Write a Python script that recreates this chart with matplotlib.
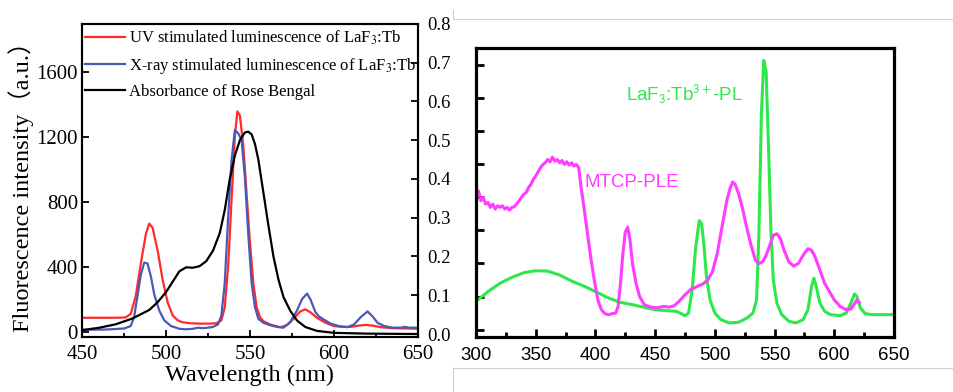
import matplotlib.pyplot as plt
from matplotlib.lines import Line2D

plt.rcParams['mathtext.fontset'] = 'stix'

# ---- left panel: LaF3:Tb luminescence vs Rose Bengal absorbance
uv_wl = [450, 470, 476, 479, 482, 485, 488, 490, 492, 495, 498, 501, 504, 507, 510, 515, 520, 525, 530,
         533, 535, 537, 539, 541, 542.5, 544, 546, 548, 550, 552, 554, 556, 558, 562, 568, 572, 576, 580,
         583, 586, 590, 595, 600, 605, 610, 615, 619, 623, 628, 635, 645, 650]
uv_int = [86, 86, 88, 110, 220, 420, 600, 665, 640, 500, 320, 180, 100, 70, 58, 52, 50, 50, 52,
          70, 150, 400, 800, 1200, 1355, 1330, 1150, 850, 550, 300, 150, 90, 65, 45, 28, 40, 80, 125,
          138, 120, 85, 55, 35, 30, 30, 38, 42, 38, 28, 22, 20, 18]

xray_wl = [450, 465, 475, 479, 481, 483, 485, 487, 489, 491, 493, 496, 499, 503, 508, 512, 516, 519, 522,
           525, 528, 531, 533, 535, 537, 539, 541, 543, 545, 547, 549, 551, 553, 555, 558, 562, 566, 570,
           574, 578, 581, 584, 586, 589, 591, 594, 598, 603, 608, 612, 616, 620, 623, 626, 630, 635, 640,
           642, 645, 650]
xray_int = [12, 14, 20, 35, 90, 220, 350, 425, 420, 340, 230, 130, 70, 35, 18, 15, 18, 25, 22,
            25, 30, 45, 100, 300, 700, 1050, 1240, 1220, 1180, 950, 600, 300, 150, 80, 55, 40, 30, 25,
            60, 130, 200, 235, 200, 120, 95, 75, 50, 35, 28, 45, 90, 125, 95, 55, 35, 25, 25,
            30, 25, 25]

rb_wl = [450, 460, 470, 480, 490, 495, 500, 504, 508, 512, 516, 520, 524, 528, 532, 535, 538, 541, 544,
         547, 549, 551, 553, 555, 558, 561, 564, 567, 570, 574, 578, 583, 590, 600, 620, 650]
rb_abs = [0.010, 0.016, 0.025, 0.040, 0.062, 0.082, 0.108, 0.135, 0.162, 0.172, 0.171, 0.175, 0.188,
          0.215, 0.260, 0.320, 0.400, 0.460, 0.500, 0.520, 0.522, 0.515, 0.490, 0.450, 0.365, 0.280,
          0.200, 0.140, 0.095, 0.060, 0.035, 0.018, 0.008, 0.003, 0.001, 0.000]

# ---- right panel: LaF3:Tb3+ PL and MTCP PLE
pl_wl = [300, 305, 310, 320, 330, 340, 350, 360, 370, 380, 390, 400, 410, 420, 430, 440, 450, 460, 468,
         472, 475, 478, 481, 484, 487, 489, 491, 493, 496, 500, 505, 512, 520, 527, 532, 535, 537, 539,
         541, 543, 545, 547, 549, 552, 556, 562, 568, 574, 578, 581, 583, 585, 588, 592, 597, 605, 610,
         614, 617, 619, 622, 626, 632, 640, 650]
pl_int = [0.085, 0.100, 0.115, 0.140, 0.158, 0.172, 0.178, 0.177, 0.165, 0.147, 0.132, 0.115, 0.097,
          0.083, 0.076, 0.068, 0.060, 0.057, 0.055, 0.048, 0.042, 0.050, 0.120, 0.250, 0.330, 0.320,
          0.250, 0.160, 0.090, 0.050, 0.030, 0.020, 0.022, 0.035, 0.050, 0.090, 0.300, 0.650, 0.815,
          0.780, 0.550, 0.300, 0.150, 0.080, 0.045, 0.025, 0.020, 0.030, 0.060, 0.130, 0.155, 0.130,
          0.080, 0.055, 0.045, 0.042, 0.050, 0.080, 0.108, 0.100, 0.065, 0.048, 0.045, 0.045, 0.045]

ple_wl = [300, 302, 304, 306, 308, 310, 312, 314, 316, 318, 320, 322, 324, 326, 328, 330, 332, 334, 336,
          338, 340, 342, 344, 346, 348, 350, 352, 354, 356, 358, 360, 362, 364, 366, 368, 370, 372, 374,
          376, 378, 380, 382, 384, 386, 388, 390, 393, 396, 399, 402, 405, 408, 411, 414, 417, 419, 421,
          423, 425, 427, 429, 431, 434, 437, 441, 446, 452, 457, 462, 466, 470, 475, 480, 485, 490, 494,
          498, 502, 506, 510, 513, 515, 517, 520, 523, 526, 530, 534, 537, 540, 543, 546, 549, 552, 555,
          558, 562, 566, 570, 574, 578, 581, 584, 588, 592, 596, 600, 605, 610, 614, 617, 619, 621]
ple_int = [0.400, 0.420, 0.390, 0.400, 0.380, 0.385, 0.370, 0.380, 0.365, 0.375, 0.370, 0.375, 0.365,
           0.370, 0.362, 0.370, 0.372, 0.380, 0.390, 0.400, 0.410, 0.415, 0.430, 0.440, 0.455, 0.465,
           0.478, 0.490, 0.500, 0.505, 0.515, 0.508, 0.522, 0.510, 0.515, 0.505, 0.512, 0.500, 0.508,
           0.498, 0.505, 0.495, 0.500, 0.490, 0.430, 0.380, 0.300, 0.220, 0.150, 0.090, 0.060, 0.048,
           0.045, 0.048, 0.050, 0.070, 0.140, 0.230, 0.295, 0.310, 0.270, 0.200, 0.140, 0.100, 0.075,
           0.068, 0.066, 0.070, 0.068, 0.072, 0.085, 0.105, 0.122, 0.130, 0.138, 0.150, 0.175, 0.230,
           0.310, 0.390, 0.430, 0.447, 0.440, 0.410, 0.370, 0.320, 0.260, 0.210, 0.200, 0.205, 0.225,
           0.255, 0.285, 0.290, 0.275, 0.240, 0.205, 0.192, 0.200, 0.225, 0.245, 0.240, 0.220, 0.180,
           0.140, 0.115, 0.090, 0.070, 0.060, 0.062, 0.078, 0.090, 0.082]

serif = 'Liberation Serif'
sans = 'Liberation Sans'

fig = plt.figure(figsize=(9.54, 3.92), dpi=100)

# left panel
ax = fig.add_axes([0.086, 0.140, 0.352, 0.799])
ax.plot(uv_wl, uv_int, color='#ff2a2a', lw=1.6, label=r'UV stimulated luminescence of LaF$_3$:Tb')
ax.plot(xray_wl, xray_int, color='#4a58b8', lw=1.6, label=r'X-ray stimulated luminescence of LaF$_3$:Tb')
ax.plot([], [], color='black', lw=1.6, label='Absorbance of Rose Bengal')
ax.set_xlim(450, 650)
ax.set_ylim(-33, 1893)
ax.set_xticks([450, 500, 550, 600, 650])
ax.set_xticks([475, 525, 575, 625], minor=True)
ax.set_yticks([0, 400, 800, 1200, 1600])
ax.tick_params(which='both', direction='in', labelsize=15, width=1.3)
ax.tick_params(which='major', length=5)
ax.tick_params(which='minor', length=3)
ax.tick_params(axis='x', pad=6)
ax.tick_params(axis='y', pad=3)
for lab in ax.get_xticklabels() + ax.get_yticklabels():
    lab.set_family(serif)
for sp in ax.spines.values():
    sp.set_linewidth(1.5)
ax.set_xlabel('Wavelength (nm)', family=serif, fontsize=17.5, labelpad=0)
ax.set_ylabel('Fluorescence intensity（a.u.）', family=[serif, 'Noto Sans CJK SC'], fontsize=17.5, labelpad=2)
ax.legend(loc='upper left', bbox_to_anchor=(-0.005, 1), frameon=False, borderaxespad=0, borderpad=0.3,
          handlelength=2.4, handletextpad=0.2, labelspacing=0.5,
          prop={'family': serif, 'size': 12})

ax2 = ax.twinx()
ax2.plot(rb_wl, rb_abs, color='black', lw=1.6)
ax2.set_ylim(-0.008, 0.8)
ax2.set_yticks([0.0, 0.1, 0.2, 0.3, 0.4, 0.5, 0.6, 0.7, 0.8])
ax2.set_yticklabels(['0.0', '0.1', '0.2', '0.3', '0.4', '0.5', '0.6', '0.7', '0.8'], family=serif)
ax2.tick_params(direction='in', labelsize=13.5, length=5, width=1.3, pad=7)
for sp in ax2.spines.values():
    sp.set_linewidth(1.5)

# right panel
bx = fig.add_axes([0.499, 0.140, 0.438, 0.737])
bx.plot(pl_wl, pl_int, color='#2ee84a', lw=2.2)
bx.plot(ple_wl, ple_int, color='#ff3cff', lw=2.2)
bx.set_xlim(300, 650)
bx.set_ylim(-0.023, 0.852)
bx.set_xticks([300, 350, 400, 450, 500, 550, 600, 650])
bx.set_xticks([325, 375, 425, 475, 525, 575, 625], minor=True)
bx.set_yticks([0.0, 0.1, 0.2, 0.3, 0.4, 0.5, 0.6, 0.7, 0.8])
bx.set_yticklabels([])
bx.tick_params(which='both', direction='in', width=2, labelsize=13.5, pad=7)
bx.tick_params(which='major', length=6)
bx.tick_params(which='minor', length=3.5)
for lab in bx.get_xticklabels():
    lab.set_family(sans)
for sp in bx.spines.values():
    sp.set_linewidth(2.3)
bx.text(426, 0.716, r'LaF$_3$:Tb$^{3+}$-PL', color='#2ee84a', family=sans, fontsize=13.5,
        va='center', math_fontfamily='stixsans')
bx.text(391, 0.444, 'MTCP-PLE', color='#ff3cff', family=sans, fontsize=13.5, va='center')

# faint frame lines from the source composite
gray = '#d0d0d0'
fig.add_artist(Line2D([0.475, 1.0], [0.9515, 0.9515], transform=fig.transFigure, color=gray, lw=0.8))
fig.add_artist(Line2D([0.475, 0.475], [0.9515, 0.975], transform=fig.transFigure, color=gray, lw=0.8))
fig.add_artist(Line2D([0.475, 1.0], [0.061, 0.061], transform=fig.transFigure, color=gray, lw=0.8))
fig.add_artist(Line2D([0.475, 0.475], [0.0, 0.061], transform=fig.transFigure, color=gray, lw=0.8))

fig.savefig('out.png', dpi=100)
